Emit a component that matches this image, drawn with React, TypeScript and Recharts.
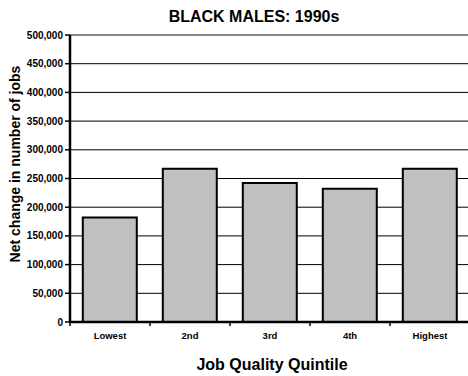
import { BarChart, Bar, XAxis, YAxis, CartesianGrid, ReferenceLine } from 'recharts';

const quintiles = ['Lowest', '2nd', '3rd', '4th', 'Highest'];
const jobChange = [182000, 267000, 242000, 232000, 267000];
const yTicks = [0, 50000, 100000, 150000, 200000, 250000, 300000, 350000, 400000, 450000, 500000];

const data = quintiles.map((q, i) => ({ name: q, value: jobChange[i] }));

const FONT = '"Liberation Sans", Arial, sans-serif';
const CHART_W = 480;
const PLOT_LEFT = 70;
const PLOT_RIGHT = 470;
const HALF_BAND = (PLOT_RIGHT - PLOT_LEFT) / quintiles.length / 2;

const fmt = (v: number) => v.toLocaleString('en-US');

// category label at centre, Excel-style tick mark at the category boundary
function XTick(props: any) {
  const { x, y, payload } = props;
  return (
    <g>
      <line x1={x - HALF_BAND} x2={x - HALF_BAND} y1={y - 8} y2={y - 4} stroke="#000" strokeWidth={1.5} />
      <text x={x} y={y + 9} textAnchor="middle" fontSize={9.5} fontWeight="bold" fill="#000" fontFamily={FONT}>
        {payload.value}
      </text>
    </g>
  );
}

export default function App() {
  return (
    <div style={{ position: 'fixed', left: 0, top: 0, width: 468, height: 376, overflow: 'hidden', background: '#fff' }}>
      <BarChart
        width={CHART_W}
        height={376}
        data={data}
        margin={{ top: 35, right: CHART_W - PLOT_RIGHT, bottom: 34, left: 0 }}
        barCategoryGap="16%"
        style={{ position: 'absolute', left: 0, top: 0 }}
      >
        <CartesianGrid vertical={false} stroke="#000" strokeWidth={1} />
        <ReferenceLine y={500000} stroke="#888" strokeWidth={2} />
        <XAxis
          dataKey="name"
          axisLine={{ stroke: '#000', strokeWidth: 2.5 }}
          tickLine={false}
          tick={<XTick />}
          height={20}
          interval={0}
        />
        <YAxis
          width={PLOT_LEFT}
          domain={[0, 500000]}
          ticks={yTicks}
          tickFormatter={fmt}
          axisLine={{ stroke: '#000', strokeWidth: 2.5 }}
          tickLine={{ stroke: '#000', strokeWidth: 1.5 }}
          tickSize={5}
          tickMargin={2}
          tick={{ fontSize: 10, fontWeight: 'bold', fill: '#000', fontFamily: FONT }}
          interval={0}
        />
        <Bar dataKey="value" fill="#c0c0c0" stroke="#000" strokeWidth={2} isAnimationActive={false} />
      </BarChart>
      {/* titles */}
      <svg width={468} height={376} style={{ position: 'absolute', left: 0, top: 0, pointerEvents: 'none' }}>
        <text x={254} y={22} textAnchor="middle" fontSize={16} fontWeight="bold" fontFamily={FONT}>
          BLACK MALES: 1990s
        </text>
        <text x={272} y={370} textAnchor="middle" fontSize={16} fontWeight="bold" fontFamily={FONT}>
          Job Quality Quintile
        </text>
        <text
          x={0}
          y={0}
          transform="translate(19.5,164) rotate(-90)"
          textAnchor="middle"
          fontSize={14}
          fontWeight="bold"
          fontFamily={FONT}
        >
          Net change in number of jobs
        </text>
      </svg>
    </div>
  );
}
